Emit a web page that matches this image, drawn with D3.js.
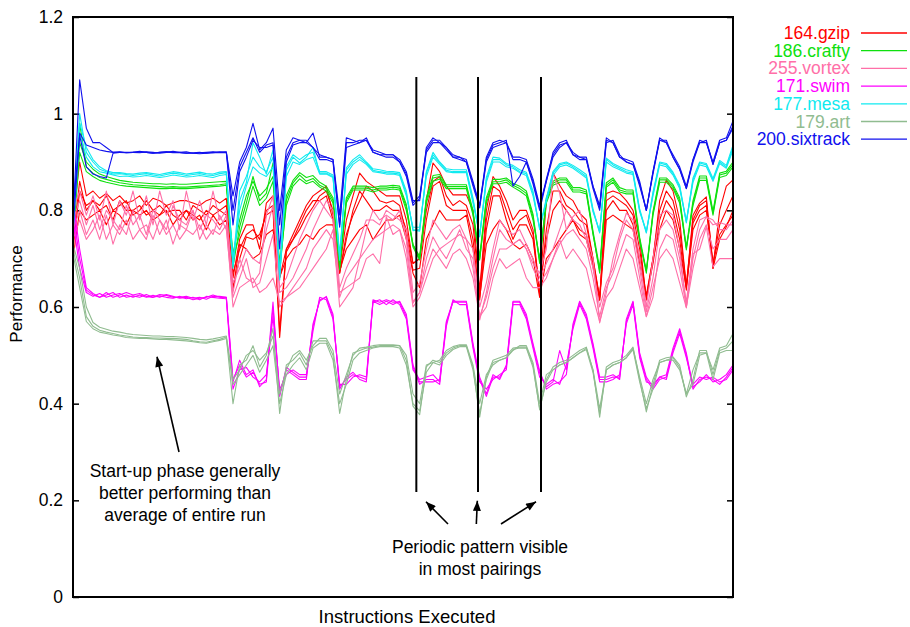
<!DOCTYPE html>
<html lang="en">
<head>
<meta charset="UTF-8">
<title>Performance over instructions executed</title>
<script src="https://cdn.jsdelivr.net/npm/d3@7/dist/d3.min.js"></script>
<style>
    body { margin: 0; background: #fff; }
    text { font-family: "Liberation Sans", Arial, sans-serif; }
</style>
</head>
<body>
<svg width="910" height="627"></svg>
<script>
    // benchmark names, in legend order (also the draw order)
    var benchmarks = ["164.gzip", "186.crafty", "255.vortex", "171.swim", "177.mesa", "179.art", "200.sixtrack"];
    var colors = ["#ff0000", "#0ee00e", "#ff6fa8", "#ff00ff", "#10eaf0", "#90bc90", "#1010ee"];
    var yTicks = [0, 0.2, 0.4, 0.6, 0.8, 1, 1.2];

    // one array per pairing run, 100 samples each
    var gzip = [
        [.78,.90,.83,.84,.825,.835,.82,.83,.815,.82, .83,.81,.825,.82,.81,.815,.82,.82,.815,.81,.82,.825,.815,.825,
         .66,.74,.77,.77,.72,.815, .83,.66,.72,.75,.78,.81,.83,.84,.85,.79, .68,.78,.83,.877,.86,.85,.84,.83,.83,.83,
         .78,.69,.70,.82,.898,.88,.85,.832,.832,.832, .80,.635,.80,.87,.85,.82,.78,.80,.80,.76,
         .63,.82,.877,.852,.83,.82,.794,.78,.70,.614, .835,.84,.835,.82,.80,.74,.614,.697,.82,.863,
         .84,.78,.642,.79,.815,.828,.68,.80,.85,.863],
        [.72,.84,.81,.82,.80,.81,.78,.82,.80,.80, .81,.79,.80,.81,.795,.80,.80,.78,.81,.80,.79,.81,.80,.81,
         .64,.70,.745,.74,.75,.79, .80,.537,.714,.739,.76,.787,.807,.83,.84,.80, .67,.75,.79,.82,.85,.84,.82,.815,.82,.81,
         .75,.676,.68,.78,.85,.86,.81,.80,.80,.80, .74,.614,.76,.83,.83,.78,.74,.77,.77,.74,
         .635,.74,.80,.82,.80,.78,.76,.75,.69,.62, .80,.82,.80,.80,.77,.70,.62,.69,.78,.82,
         .80,.74,.635,.774,.80,.81,.68,.74,.766,.80],
        [.70,.80,.78,.79,.80,.77,.80,.79,.77,.80, .79,.80,.78,.79,.80,.77,.79,.80,.78,.79,.76,.79,.77,.78,
         .635,.73,.72,.70,.71,.75, .76,.662,.70,.72,.73,.75,.74,.76,.77,.77, .675,.72,.74,.76,.77,.739,.76,.78,.78,.79,
         .74,.67,.64,.74,.77,.80,.78,.78,.78,.79, .72,.62,.73,.76,.78,.76,.73,.72,.73,.70,
         .62,.70,.718,.74,.76,.78,.75,.74,.683,.614, .78,.79,.78,.77,.76,.69,.625,.70,.76,.80,
         .78,.72,.64,.76,.79,.80,.69,.75,.77,.79],
        [.74,.86,.80,.82,.81,.83,.80,.81,.82,.79, .80,.82,.80,.79,.81,.79,.78,.80,.79,.78,.80,.79,.80,.79,
         .67,.72,.75,.76,.74,.80, .81,.55,.72,.74,.77,.80,.82,.82,.83,.78, .67,.74,.80,.84,.82,.80,.80,.81,.80,.80,
         .76,.69,.70,.80,.86,.87,.83,.81,.82,.81, .77,.63,.78,.85,.84,.80,.76,.78,.79,.75,
         .625,.76,.84,.84,.81,.80,.78,.77,.70,.62, .82,.83,.82,.81,.79,.72,.62,.70,.80,.84,
         .82,.76,.645,.78,.81,.82,.69,.77,.80,.83]
    ];

    var crafty = [
        [.75,.98,.89,.877,.868,.864,.86,.857,.855,.853, .852,.851,.85,.849,.848,.849,.848,.848,.849,.85,.851,.852,.853,.855,
         .683,.766,.815,.87,.82,.835, .898,.67,.821,.857,.873,.86,.866,.852,.845,.821, .677,.821,.846,.846,.846,.842,.846,.846,.848,.846,
         .807,.724,.697,.821,.867,.87,.849,.849,.849,.849, .794,.697,.821,.859,.859,.863,.852,.845,.835,.787,
         .69,.821,.856,.863,.863,.842,.842,.838,.753,.67, .852,.863,.842,.838,.838,.739,.67,.794,.863,.863,
         .849,.821,.718,.815,.867,.867,.794,.873,.877,.895],
        [.74,.92,.88,.87,.862,.858,.855,.852,.85,.849, .848,.847,.846,.845,.845,.846,.845,.845,.846,.847,.848,.849,.85,.852,
         .70,.75,.80,.85,.81,.825, .86,.68,.81,.85,.865,.855,.86,.848,.84,.815, .69,.815,.842,.842,.842,.838,.842,.842,.844,.842,
         .80,.73,.70,.815,.86,.865,.845,.845,.845,.845, .79,.70,.815,.855,.855,.858,.848,.84,.83,.78,
         .70,.815,.852,.858,.858,.838,.838,.834,.75,.675, .848,.858,.838,.834,.834,.735,.675,.79,.858,.858,
         .845,.815,.722,.81,.862,.862,.79,.868,.872,.89],
        [.76,.94,.90,.885,.875,.87,.866,.862,.86,.858, .857,.856,.855,.855,.854,.855,.854,.854,.855,.856,.857,.858,.859,.86,
         .71,.78,.83,.86,.83,.845, .87,.69,.83,.862,.878,.868,.872,.858,.85,.826, .685,.826,.85,.85,.85,.847,.85,.85,.852,.85,
         .812,.728,.705,.826,.872,.874,.853,.853,.853,.853, .80,.705,.826,.864,.864,.867,.856,.85,.84,.792,
         .695,.826,.86,.867,.867,.847,.847,.842,.757,.68, .857,.867,.847,.842,.842,.744,.675,.798,.867,.867,
         .853,.826,.724,.82,.871,.871,.798,.877,.881,.90]
    ];

    var vortex = [
        [.80,.84,.79,.83,.78,.84,.77,.82,.79,.84, .78,.83,.77,.84,.79,.82,.76,.84,.78,.82,.77,.84,.78,.80,
         .63,.70,.66,.65,.67,.79, .83,.64,.66,.70,.74,.77,.80,.82,.80,.78, .62,.66,.68,.70,.76,.80,.78,.79,.78,.80,
         .74,.61,.63,.70,.745,.72,.70,.73,.76,.72, .70,.573,.63,.70,.76,.74,.73,.74,.72,.69,
         .67,.72,.877,.835,.76,.787,.80,.75,.70,.567, .63,.70,.75,.794,.78,.70,.60,.70,.79,.80,
         .79,.72,.60,.70,.76,.787,.78,.76,.76,.78],
        [.76,.80,.75,.78,.74,.79,.73,.77,.75,.80, .76,.74,.79,.75,.78,.73,.77,.76,.80,.74,.77,.75,.79,.76,
         .62,.66,.70,.64,.65,.70, .75,.60,.62,.64,.66,.68,.72,.74,.76,.74, .63,.64,.65,.66,.70,.71,.69,.787,.75,.76,
         .72,.608,.63,.68,.72,.70,.68,.71,.72,.70, .66,.58,.60,.66,.70,.68,.69,.70,.66,.64,
         .64,.66,.70,.74,.70,.72,.70,.68,.62,.57, .62,.64,.68,.72,.70,.64,.58,.64,.70,.72,
         .70,.65,.598,.71,.72,.766,.683,.70,.70,.70],
        [.78,.82,.77,.81,.76,.80,.78,.76,.81,.77, .79,.75,.80,.78,.76,.81,.78,.77,.80,.76,.79,.78,.76,.79,
         .65,.68,.72,.70,.69,.76, .81,.63,.64,.66,.69,.72,.76,.79,.82,.80, .64,.68,.71,.74,.78,.78,.77,.80,.79,.78,
         .76,.63,.65,.72,.78,.76,.74,.76,.77,.74, .72,.60,.65,.72,.78,.76,.75,.76,.73,.70,
         .66,.69,.72,.76,.80,.78,.77,.74,.68,.60, .65,.68,.74,.78,.76,.68,.59,.66,.76,.78,
         .76,.70,.61,.72,.78,.787,.77,.775,.77,.77],
        [.74,.78,.74,.76,.79,.74,.77,.75,.78,.74, .76,.77,.74,.78,.75,.77,.74,.76,.75,.77,.74,.76,.75,.77,
         .60,.64,.65,.66,.63,.64, .66,.61,.62,.63,.64,.66,.68,.70,.72,.76, .60,.62,.64,.70,.72,.74,.75,.76,.77,.76,
         .70,.60,.62,.66,.70,.72,.73,.74,.75,.74, .68,.58,.62,.68,.72,.72,.73,.74,.72,.68,
         .65,.67,.70,.73,.75,.76,.74,.72,.66,.58, .64,.67,.71,.75,.74,.66,.58,.62,.72,.75,
         .74,.68,.60,.68,.74,.77,.72,.74,.74,.76]
    ];

    var swim = [
        [.80,.70,.635,.625,.62,.625,.63,.62,.625,.62, .625,.62,.624,.62,.626,.622,.618,.62,.615,.618,.62,.625,.62,.62,
         .445,.49,.46,.47,.435,.45, .61,.415,.475,.465,.455,.455,.56,.615,.62,.58, .435,.45,.46,.455,.45,.615,.61,.615,.61,.61,
         .58,.476,.44,.45,.45,.44,.567,.61,.61,.61, .52,.45,.415,.455,.455,.476,.61,.61,.58,.52,
         .463,.435,.445,.51,.47,.56,.61,.58,.52,.45, .45,.455,.455,.57,.61,.50,.45,.43,.45,.455,
         .51,.55,.50,.43,.45,.455,.45,.44,.455,.475],
        [.78,.68,.63,.622,.628,.62,.625,.628,.62,.623, .62,.626,.62,.623,.62,.618,.622,.617,.62,.615,.622,.62,.618,.617,
         .43,.47,.475,.455,.445,.46, .58,.43,.46,.47,.46,.46,.55,.62,.615,.575, .44,.44,.455,.46,.455,.61,.615,.605,.615,.605,
         .575,.47,.45,.455,.46,.445,.56,.615,.605,.605, .515,.445,.43,.45,.46,.47,.605,.605,.575,.515,
         .455,.44,.45,.44,.48,.555,.605,.575,.515,.445, .445,.45,.46,.565,.605,.495,.445,.44,.455,.45,
         .505,.545,.495,.44,.455,.45,.455,.445,.45,.47],
        [.82,.72,.64,.628,.62,.63,.62,.625,.63,.625, .628,.622,.62,.626,.624,.62,.62,.622,.618,.62,.616,.622,.622,.62,
         .45,.48,.455,.465,.44,.445, .60,.42,.47,.46,.45,.45,.565,.612,.622,.585, .43,.455,.465,.45,.445,.612,.605,.612,.605,.612,
         .585,.48,.445,.445,.445,.45,.57,.612,.612,.612, .525,.455,.42,.46,.45,.48,.612,.612,.585,.525,
         .468,.43,.44,.445,.46,.565,.612,.585,.525,.455, .455,.46,.45,.575,.612,.505,.455,.435,.455,.46,
         .515,.555,.505,.435,.445,.46,.445,.45,.46,.48]
    ];

    var mesa = [
        [.77,1.0,.92,.90,.885,.88,.875,.876,.874,.872, .874,.876,.873,.871,.874,.877,.875,.872,.874,.876,.873,.872,.876,.878,
         .68,.82,.857,.94,.91,.875, .925,.656,.883,.91,.898,.91,.93,.877,.877,.87, .697,.883,.90,.91,.898,.883,.88,.878,.877,.875,
         .835,.76,.757,.877,.915,.898,.883,.88,.88,.88, .821,.745,.863,.905,.905,.894,.89,.88,.876,.835,
         .76,.821,.877,.894,.898,.89,.88,.87,.80,.753, .905,.894,.887,.88,.877,.80,.753,.835,.898,.894,
         .876,.849,.774,.863,.898,.894,.863,.90,.89,.93],
        [.75,.96,.91,.89,.88,.877,.873,.87,.871,.869, .87,.872,.87,.868,.87,.873,.871,.869,.87,.872,.87,.868,.872,.874,
         .70,.80,.85,.89,.877,.87, .89,.67,.87,.90,.895,.905,.91,.875,.875,.868, .71,.875,.895,.905,.895,.88,.878,.875,.875,.872,
         .83,.765,.765,.87,.91,.895,.88,.878,.878,.878, .815,.75,.858,.90,.90,.89,.887,.878,.872,.83,
         .765,.818,.872,.89,.894,.887,.877,.867,.797,.757, .90,.89,.884,.877,.874,.797,.757,.83,.894,.89,
         .873,.845,.778,.858,.894,.89,.86,.897,.887,.925],
        [.78,.98,.93,.905,.89,.882,.878,.878,.876,.875, .877,.878,.876,.874,.877,.88,.878,.875,.877,.879,.876,.875,.879,.88,
         .69,.84,.87,.91,.89,.88, .91,.66,.89,.915,.905,.915,.92,.88,.88,.873, .70,.888,.905,.915,.90,.886,.884,.881,.88,.878,
         .84,.758,.76,.88,.92,.90,.886,.884,.884,.884, .825,.748,.868,.91,.908,.897,.893,.884,.879,.84,
         .762,.825,.88,.897,.90,.893,.884,.874,.803,.755, .908,.897,.89,.884,.88,.803,.755,.838,.90,.897,
         .879,.852,.776,.867,.90,.897,.866,.903,.893,.935]
    ];

    var art = [
        [.72,.66,.58,.56,.552,.548,.545,.542,.54,.538, .537,.537,.536,.536,.535,.535,.534,.533,.53,.528,.527,.53,.533,.538,
         .40,.48,.49,.52,.476,.50, .556,.38,.48,.49,.505,.48,.53,.53,.53,.50, .38,.45,.505,.51,.515,.517,.52,.52,.52,.52,
         .49,.395,.377,.476,.49,.485,.505,.515,.52,.52, .476,.372,.455,.49,.495,.50,.515,.517,.517,.48,
         .387,.45,.476,.485,.49,.50,.51,.517,.47,.372, .476,.485,.49,.50,.517,.45,.383,.44,.49,.495,
         .497,.48,.414,.45,.51,.51,.46,.51,.515,.53],
        [.73,.68,.60,.568,.558,.554,.55,.548,.545,.543, .542,.541,.54,.54,.539,.539,.538,.537,.535,.533,.532,.534,.537,.54,
         .45,.47,.50,.51,.49,.505, .54,.42,.47,.50,.51,.49,.52,.535,.535,.51, .42,.46,.50,.515,.517,.52,.522,.522,.522,.52,
         .50,.42,.40,.48,.485,.49,.51,.518,.522,.522, .48,.40,.46,.48,.49,.495,.51,.52,.52,.485,
         .40,.46,.47,.48,.485,.495,.505,.515,.47,.39, .47,.48,.485,.495,.515,.455,.40,.45,.485,.49,
         .495,.475,.42,.47,.505,.505,.47,.515,.52,.545],
        [.71,.64,.57,.555,.548,.545,.542,.54,.537,.536, .535,.535,.534,.533,.533,.532,.531,.53,.528,.526,.525,.528,.531,.535,
         .44,.46,.48,.50,.465,.49, .52,.40,.46,.48,.495,.47,.515,.525,.525,.49, .40,.44,.49,.505,.51,.515,.518,.518,.518,.515,
         .48,.40,.385,.465,.485,.48,.50,.512,.518,.518, .47,.38,.45,.485,.49,.495,.512,.515,.515,.475,
         .39,.445,.47,.48,.485,.495,.505,.512,.465,.38, .47,.48,.485,.495,.512,.445,.39,.43,.485,.49,
         .49,.47,.42,.44,.50,.505,.45,.505,.51,.51]
    ];

    var sixtrack = [
        [.78,1.07,.97,.94,.94,.93,.92,.921,.919,.92, .922,.92,.918,.92,.921,.919,.92,.921,.918,.917,.918,.92,.919,.92,
         .83,.90,.93,.98,.925,.94, .97,.80,.925,.95,.945,.94,.96,.91,.91,.905, .79,.95,.945,.94,.95,.92,.915,.915,.915,.905,
         .88,.82,.82,.93,.95,.94,.93,.915,.91,.905, .86,.81,.91,.94,.945,.94,.91,.91,.905,.865,
         .81,.86,.92,.94,.945,.915,.91,.91,.85,.81, .95,.94,.91,.905,.90,.86,.80,.88,.95,.94,
         .915,.89,.85,.905,.945,.94,.90,.945,.95,.985],
        [.76,.96,.935,.93,.925,.922,.92,.92,.919,.92, .921,.92,.918,.92,.921,.92,.919,.918,.918,.919,.92,.921,.92,.921,
         .80,.89,.92,.95,.92,.935, .94,.77,.91,.94,.945,.945,.93,.915,.91,.905, .77,.94,.94,.945,.945,.925,.92,.915,.915,.90,
         .875,.815,.83,.925,.945,.945,.93,.91,.91,.90, .855,.81,.905,.935,.94,.945,.85,.87,.90,.86,
         .805,.865,.915,.935,.94,.92,.91,.905,.845,.80, .94,.945,.915,.90,.895,.855,.80,.875,.945,.945,
         .91,.885,.845,.905,.94,.945,.895,.94,.945,.975],
        [.80,.955,.89,.875,.87,.867,.918,.92,.92,.92, .919,.921,.92,.918,.92,.922,.92,.918,.919,.92,.918,.919,.921,.92,
         .77,.88,.91,.945,.93,.93, .935,.72,.90,.935,.94,.94,.93,.905,.905,.90, .765,.93,.935,.94,.945,.92,.915,.91,.91,.90,
         .87,.81,.825,.92,.94,.94,.925,.91,.905,.90, .85,.805,.90,.93,.935,.94,.905,.905,.90,.855,
         .80,.86,.91,.93,.94,.915,.905,.905,.85,.805, .945,.94,.91,.90,.895,.85,.80,.88,.945,.94,
         .91,.885,.845,.90,.94,.94,.895,.94,.945,.97]
    ];

    var runs = [gzip, crafty, vortex, swim, mesa, art, sixtrack];

    // annotations, in data units (sample index, performance)
    var periodMarks = [51.5, 60.75, 70.2];
    var markTop = 1.076, markBottom = 0.217;
    var startArrow = [[15.9, 0.300], [12.6, 0.497]];
    var periodArrows = [
        [[56.25, 0.151], [52.95, 0.197]],
        [[60.5, 0.151], [60.65, 0.199]],
        [[64.2, 0.151], [69.45, 0.197]]
    ];
    var startNote = ["Start-up phase generally", "better performing than", "average of entire run"];
    var periodNote = ["Periodic pattern visible", "in most pairings"];

    var svg = d3.select("svg");
    var plot = {left: 73, right: 733, top: 17, bottom: 597};
    var font = "\"Liberation Sans\", Arial, sans-serif";

    var x = d3.scaleLinear()
        .domain([0, gzip[0].length - 1])
        .range([plot.left, plot.right]);
    var y = d3.scaleLinear()
        .domain([0, 1.2])
        .range([plot.bottom, plot.top]);

    // arrow head
    svg.append("defs").append("marker")
        .attr("id", "head")
        .attr("viewBox", "0 0 10 8")
        .attr("refX", 10)
        .attr("refY", 4)
        .attr("markerWidth", 11)
        .attr("markerHeight", 8)
        .attr("markerUnits", "userSpaceOnUse")
        .attr("orient", "auto")
        .append("path")
        .attr("d", "M0,0L10,4L0,8Z")
        .attr("fill", "#000");

    // y axis (left with labels, right mirrored)
    var yAxis = d3.axisLeft(y)
        .tickValues(yTicks)
        .tickSize(-6)
        .tickPadding(10)
        .tickFormat(d3.format("~g"));
    var gy = svg.append("g")
        .attr("transform", "translate(" + plot.left + ",0)")
        .call(yAxis);
    gy.select(".domain").remove();
    gy.selectAll("line").attr("stroke", "#000").attr("stroke-width", 1.5);
    gy.selectAll("text")
        .attr("fill", "#000")
        .style("font-size", "17.5px")
        .style("font-family", font);

    var gy2 = svg.append("g")
        .attr("transform", "translate(" + plot.right + ",0)")
        .call(d3.axisRight(y).tickValues(yTicks).tickSize(-6).tickFormat(""));
    gy2.select(".domain").remove();
    gy2.selectAll("line").attr("stroke", "#000").attr("stroke-width", 1.5);

    // the runs
    var line = d3.line()
        .x(function (d, i) { return x(i); })
        .y(function (d) { return y(d); });

    runs.forEach(function (set, k) {
        svg.append("g")
            .selectAll("path")
            .data(set)
            .enter()
            .append("path")
            .attr("d", line)
            .attr("fill", "none")
            .attr("stroke", colors[k])
            .attr("stroke-width", 1.1)
            .attr("stroke-linejoin", "round");
    });

    // frame
    svg.append("rect")
        .attr("x", plot.left)
        .attr("y", plot.top)
        .attr("width", plot.right - plot.left)
        .attr("height", plot.bottom - plot.top)
        .attr("fill", "none")
        .attr("stroke", "#000")
        .attr("stroke-width", 2);

    // period markers
    svg.append("g")
        .selectAll("line")
        .data(periodMarks)
        .enter()
        .append("line")
        .attr("x1", function (d) { return x(d); })
        .attr("x2", function (d) { return x(d); })
        .attr("y1", y(markTop))
        .attr("y2", y(markBottom))
        .attr("stroke", "#000")
        .attr("stroke-width", 2);

    // arrows
    var arrows = [startArrow].concat(periodArrows);
    svg.append("g")
        .selectAll("line")
        .data(arrows)
        .enter()
        .append("line")
        .attr("x1", function (d) { return x(d[0][0]); })
        .attr("y1", function (d) { return y(d[0][1]); })
        .attr("x2", function (d) { return x(d[1][0]); })
        .attr("y2", function (d) { return y(d[1][1]); })
        .attr("stroke", "#000")
        .attr("stroke-width", 1.6)
        .attr("marker-end", "url(#head)");

    // notes
    function note(lines, cx, firstBase) {
        svg.append("g")
            .selectAll("text")
            .data(lines)
            .enter()
            .append("text")
            .attr("x", x(cx))
            .attr("y", function (d, i) { return y(firstBase) + i * 21.8; })
            .attr("text-anchor", "middle")
            .style("font-size", "17.5px")
            .text(function (d) { return d; });
    }
    note(startNote, 16.8, 0.248);
    note(periodNote, 61.05, 0.091);

    // axis titles
    svg.append("text")
        .attr("x", 407)
        .attr("y", 623)
        .attr("text-anchor", "middle")
        .style("font-size", "18.5px")
        .text("Instructions Executed");
    svg.append("text")
        .attr("transform", "translate(22,294) rotate(-90)")
        .attr("text-anchor", "middle")
        .style("font-size", "17px")
        .text("Performance");

    // legend
    var legend = svg.append("g")
        .selectAll("g")
        .data(benchmarks)
        .enter()
        .append("g")
        .attr("transform", function (d, i) { return "translate(0," + (33 + i * 17.7) + ")"; });
    legend.append("text")
        .attr("x", 850)
        .attr("y", 6)
        .attr("text-anchor", "end")
        .attr("fill", function (d, i) { return colors[i]; })
        .style("font-size", "17.5px")
        .text(function (d) { return d; });
    legend.append("line")
        .attr("x1", 861)
        .attr("x2", 907)
        .attr("stroke", function (d, i) { return colors[i]; })
        .attr("stroke-width", 1.3);
</script>
</body>
</html>
